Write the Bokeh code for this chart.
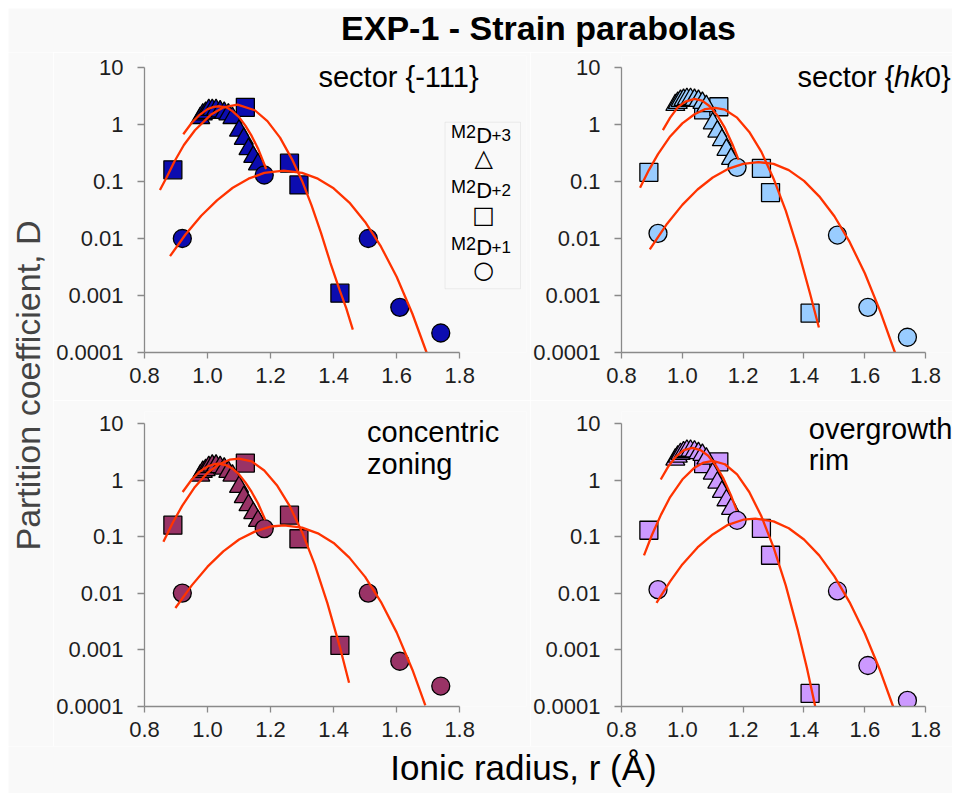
"""
EXP-1 - Strain parabolas: partition coefficients vs ionic radius, four zones
"""

import numpy as np

from bokeh.plotting import figure
from bokeh.layouts import column, row
from bokeh.models import (Range1d, FixedTicker, PrintfTickFormatter,
                          NumeralTickFormatter, Label, BoxAnnotation)
from bokeh.embed import file_html
from bokeh.resources import INLINE

# --------------------------------------------------------------
# DATA
# --------------------------------------------------------------

X_TICKS = [0.8, 1.0, 1.2, 1.4, 1.6, 1.8]
Y_TICKS = [0.0001, 0.001, 0.01, 0.1, 1, 10]

# M2D+3 (REE + Y), same radii in every panel
tri_r = [0.977, 0.985, 0.994, 1.004, 1.015, 1.027, 1.04, 1.053, 1.066, 1.079,
         1.10, 1.115, 1.13, 1.145, 1.16]
tri_d_111 = [1.3, 1.5, 1.6, 1.8, 1.8, 1.8, 1.7, 1.6, 1.5, 1.3, 0.78, 0.56, 0.37, 0.27, 0.2]
tri_d_hk0 = [2.2, 2.4, 2.6, 2.7, 2.8, 2.8, 2.7, 2.6, 2.4, 2.1, 1.05, 0.75, 0.53, 0.36, 0.25]
tri_d_conc = [1.2, 1.4, 1.5, 1.7, 1.8, 1.8, 1.7, 1.6, 1.4, 1.2, 0.76, 0.5, 0.36, 0.26, 0.19]
tri_d_rim = [2.3, 2.6, 2.9, 3.1, 3.3, 3.3, 3.2, 3.0, 2.8, 2.4, 1.3, 0.9, 0.62, 0.44, 0.31]

# M2D+2
sq_r_111 = [0.89, 1.12, 1.26, 1.29, 1.42]
sq_d_111 = [0.16, 2.0, 0.21, 0.087, 0.0011]
sq_r_hk0 = [0.89, 1.07, 1.12, 1.26, 1.29, 1.42]
sq_d_hk0 = [0.145, 1.8, 2.05, 0.17, 0.064, 0.00049]
sq_r_conc = [0.89, 1.12, 1.26, 1.29, 1.42]
sq_d_conc = [0.16, 2.0, 0.24, 0.092, 0.0012]
sq_r_rim = [0.89, 1.07, 1.12, 1.26, 1.29, 1.42]
sq_d_rim = [0.13, 1.95, 2.1, 0.14, 0.047, 0.00017]

# M2D+1
circ_r = [0.92, 1.18, 1.51, 1.61, 1.74]
circ_d_111 = [0.01, 0.13, 0.01, 0.00062, 0.00022]
circ_d_hk0 = [0.0123, 0.177, 0.0115, 0.00062, 0.000185]
circ_d_conc = [0.0101, 0.139, 0.0101, 0.00063, 0.00023]
circ_d_rim = [0.0116, 0.195, 0.011, 0.00053, 0.000128]

# fitted parabolas, points (r, log10 D)
fit3_r_111 = [0.923, 0.95, 0.975, 1.0, 1.02, 1.038, 1.06, 1.08, 1.10, 1.12, 1.14, 1.16, 1.186]
fit3_lg_111 = [-0.17, 0.03, 0.17, 0.27, 0.31, 0.32, 0.30, 0.23, 0.13, -0.02, -0.20, -0.42, -0.78]
fit2_r_111 = [0.849, 0.87, 0.895, 0.925, 0.96, 1.01, 1.05, 1.095, 1.15, 1.19, 1.23, 1.27,
              1.30, 1.33, 1.36, 1.39, 1.42, 1.44, 1.461]
fit2_lg_111 = [-1.15, -0.93, -0.65, -0.36, -0.10, 0.17, 0.30, 0.35, 0.25, 0.06, -0.23, -0.63,
               -0.99, -1.42, -1.90, -2.43, -2.92, -3.22, -3.60]
fit1_r_111 = [0.881, 0.93, 0.98, 1.03, 1.08, 1.13, 1.18, 1.242, 1.30, 1.35, 1.40, 1.45,
              1.50, 1.55, 1.60, 1.65, 1.695]
fit1_lg_111 = [-2.31, -1.93, -1.60, -1.33, -1.11, -0.95, -0.85, -0.81, -0.85, -0.95, -1.12, -1.37,
               -1.71, -2.14, -2.67, -3.32, -4.0]

fit3_r_hk0 = [0.936, 0.96, 0.985, 1.01, 1.04, 1.065, 1.09, 1.115, 1.14, 1.165, 1.185]
fit3_lg_hk0 = [-0.10, 0.12, 0.30, 0.40, 0.45, 0.42, 0.32, 0.16, -0.06, -0.35, -0.62]
fit2_r_hk0 = [0.861, 0.89, 0.92, 0.96, 1.0, 1.04, 1.075, 1.108, 1.14, 1.18, 1.22, 1.26,
              1.30, 1.34, 1.38, 1.42, 1.449]
fit2_lg_hk0 = [-1.11, -0.80, -0.52, -0.21, 0.02, 0.18, 0.27, 0.29, 0.26, 0.12, -0.13, -0.48,
               -0.95, -1.51, -2.19, -2.97, -3.56]
fit1_r_hk0 = [0.893, 0.95, 1.0, 1.05, 1.10, 1.15, 1.20, 1.25, 1.30, 1.35, 1.40, 1.45,
              1.50, 1.55, 1.60, 1.65, 1.699]
fit1_lg_hk0 = [-2.19, -1.74, -1.41, -1.14, -0.93, -0.78, -0.69, -0.66, -0.69, -0.80, -0.99, -1.26,
               -1.61, -2.06, -2.61, -3.27, -4.0]

fit3_r_conc = [0.921, 0.95, 0.975, 1.0, 1.02, 1.035, 1.06, 1.08, 1.10, 1.12, 1.14, 1.16, 1.183]
fit3_lg_conc = [-0.21, 0.01, 0.15, 0.24, 0.28, 0.29, 0.26, 0.20, 0.10, -0.04, -0.21, -0.41, -0.70]
fit2_r_conc = [0.86, 0.89, 0.92, 0.96, 1.0, 1.04, 1.07, 1.10, 1.14, 1.18, 1.22, 1.26,
               1.30, 1.34, 1.38, 1.42, 1.449]
fit2_lg_conc = [-1.09, -0.75, -0.45, -0.12, 0.13, 0.29, 0.36, 0.38, 0.33, 0.17, -0.09, -0.45,
                -0.92, -1.49, -2.17, -2.95, -3.58]
fit1_r_conc = [0.898, 0.95, 1.0, 1.05, 1.10, 1.15, 1.20, 1.243, 1.30, 1.35, 1.40, 1.45,
               1.50, 1.55, 1.60, 1.65, 1.691]
fit1_lg_conc = [-2.26, -1.86, -1.53, -1.26, -1.05, -0.91, -0.82, -0.80, -0.84, -0.94, -1.11, -1.37,
                -1.71, -2.15, -2.69, -3.35, -3.98]

fit3_r_rim = [0.929, 0.955, 0.98, 1.005, 1.033, 1.06, 1.085, 1.11, 1.135, 1.16, 1.179]
fit3_lg_rim = [0.01, 0.25, 0.42, 0.53, 0.57, 0.53, 0.43, 0.26, 0.03, -0.27, -0.54]
fit2_r_rim = [0.874, 0.90, 0.93, 0.96, 1.0, 1.04, 1.07, 1.10, 1.14, 1.18, 1.22, 1.26,
              1.30, 1.34, 1.38, 1.41, 1.437]
fit2_lg_rim = [-1.33, -0.97, -0.61, -0.30, 0.01, 0.22, 0.31, 0.34, 0.28, 0.10, -0.21, -0.64,
               -1.19, -1.86, -2.66, -3.33, -4.0]
fit1_r_rim = [0.915, 0.96, 1.0, 1.05, 1.10, 1.15, 1.20, 1.24, 1.30, 1.35, 1.40, 1.45,
              1.50, 1.55, 1.60, 1.65, 1.693]
fit1_lg_rim = [-2.17, -1.79, -1.49, -1.19, -0.96, -0.79, -0.70, -0.68, -0.73, -0.85, -1.05, -1.33,
               -1.70, -2.16, -2.71, -3.36, -4.0]

# --------------------------------------------------------------
# STYLE / GEOMETRY
# --------------------------------------------------------------

BG = "#f9f9f9"
FONT = "Liberation Sans"
FIT_COLOR = "#ff3300"
AXIS_COLOR = "#8a8a8a"

# (figure width, border left, border right, pixels per unit of r)
LEFT_COL = (477, 90, 4, 316)
RIGHT_COL = (422, 89, 0, 306)
# (figure height, border top, border bottom)
TOP_ROW = (348, 3, 48)
BOTTOM_ROW = (346, 11, 40)
HEADROOM = 12   # px of frame kept above D = 10 so the panel names are not clipped


def make_panel(col, rw, color, sq_r, sq_d, tri_d, circ_d, fits):
    width, left, right, px_per_r = col
    height, top, bottom = rw
    # frame runs on past r = 1.8 and above D = 10; the axes stop at the last tick
    x_end = 0.8 + (width - left - right) / px_per_r
    decade_px = (height - top - bottom - HEADROOM) / 5.0
    y_end = 10 ** (1 + HEADROOM / decade_px)
    p = figure(
        width=width, height=height,
        x_range=Range1d(0.8, x_end), y_range=Range1d(0.0001, y_end),
        y_axis_type="log",
        toolbar_location=None, output_backend="svg",
        min_border_left=left, min_border_right=right,
        min_border_top=top, min_border_bottom=bottom,
        background_fill_color=BG, border_fill_color=BG,
        outline_line_color=None,)
    p.grid.visible = False

    p.xaxis.bounds = (0.8, 1.8)
    p.yaxis.bounds = (0.0001, 10)
    p.xaxis.ticker = FixedTicker(ticks=X_TICKS)
    p.xaxis.formatter = NumeralTickFormatter(format="0.0")
    p.yaxis.ticker = FixedTicker(ticks=Y_TICKS)
    p.yaxis.formatter = PrintfTickFormatter(format="%g")
    p.axis.axis_line_color = AXIS_COLOR
    p.axis.axis_line_width = 1.3
    p.axis.major_tick_line_color = AXIS_COLOR
    p.axis.major_tick_line_width = 1.3
    p.axis.major_tick_in = 0
    p.axis.minor_tick_line_color = None
    p.axis.major_label_text_font = FONT
    p.axis.major_label_text_font_size = "22px"
    p.axis.major_label_text_color = "#1e1e1e"
    p.xaxis.major_tick_out = 6
    p.xaxis.major_label_standoff = 9
    p.yaxis.major_tick_out = 7
    p.yaxis.major_label_standoff = 14

    mk = dict(fill_color=color, line_color="black", line_width=1.3)
    p.scatter(sq_r, sq_d, marker="square", size=18, **mk)
    p.scatter(tri_r, tri_d, marker="triangle", size=19, **mk)
    p.scatter(circ_r, circ_d, marker="circle", size=18, **mk)

    for r, lg in fits:
        p.line(r, 10 ** np.array(lg), line_color=FIT_COLOR, line_width=2.3,
               line_join="round")
    return p


def add_text(p, x, y, text, size, align="left", style="normal", font=FONT,
             baseline="bottom"):
    p.add_layout(Label(x=x, y=y, text=text, text_align=align,
                       text_baseline=baseline, text_font=font,
                       text_font_size=size, text_font_style=style,
                       text_color="black"))


p1 = make_panel(LEFT_COL, TOP_ROW, "#0c0cb0", sq_r_111, sq_d_111, tri_d_111, circ_d_111,
                [(fit3_r_111, fit3_lg_111), (fit2_r_111, fit2_lg_111), (fit1_r_111, fit1_lg_111)])
p2 = make_panel(RIGHT_COL, TOP_ROW, "#99ccff", sq_r_hk0, sq_d_hk0, tri_d_hk0, circ_d_hk0,
                [(fit3_r_hk0, fit3_lg_hk0), (fit2_r_hk0, fit2_lg_hk0), (fit1_r_hk0, fit1_lg_hk0)])
p3 = make_panel(LEFT_COL, BOTTOM_ROW, "#993366", sq_r_conc, sq_d_conc, tri_d_conc, circ_d_conc,
                [(fit3_r_conc, fit3_lg_conc), (fit2_r_conc, fit2_lg_conc), (fit1_r_conc, fit1_lg_conc)])
p4 = make_panel(RIGHT_COL, BOTTOM_ROW, "#cc99ff", sq_r_rim, sq_d_rim, tri_d_rim, circ_d_rim,
                [(fit3_r_rim, fit3_lg_rim), (fit2_r_rim, fit2_lg_rim), (fit1_r_rim, fit1_lg_rim)])

# panel names
add_text(p1, 1.86, 3.52, "sector {-111}", "29px", align="right")
add_text(p2, 1.882, 3.52, "0}", "29px", align="right")
add_text(p2, 1.797, 3.52, "hk", "29px", align="right", style="italic")
add_text(p2, 1.697, 3.52, "sector {", "29px", align="right")
add_text(p3, 1.506, 3.64, "concentric", "29px")
add_text(p3, 1.506, 1.006, "zoning", "29px")
add_text(p4, 1.416, 4.23, "overgrowth", "29px")
add_text(p4, 1.416, 1.184, "rim", "29px")

# legend box (top-left panel, beside the axis end)
p1.add_layout(BoxAnnotation(left=1.7535, right=1.993, bottom=0.001312, top=1.096,
                            fill_color=None, fill_alpha=0,
                            line_color="#c8c8c8", line_width=1))
legend_rows = [("+3", "\u25b3", 0.4875, 0.3837, 0.5117, 0.2535),
               ("+2", "\u25a1", 0.0528, 0.04159, 0.05546, 0.02636),
               ("+1", "\u25cb", 0.005284, 0.004159, 0.005546, 0.002748)]
for sup, mark, y_m2, y_d, y_sup, y_mark in legend_rows:
    add_text(p1, 1.8522, y_m2, "M2", "18px", align="right")
    add_text(p1, 1.8522, y_d, "D", "22px")
    add_text(p1, 1.901, y_sup, sup, "17px")
    add_text(p1, 1.876, y_mark, mark, "24px", align="center", font="DejaVu Sans",
             baseline="middle")

# --------------------------------------------------------------
# TITLE AND AXIS NAMES
# --------------------------------------------------------------


def text_strip(width, height):
    s = figure(width=width, height=height, x_range=Range1d(0, width), y_range=Range1d(0, height),
               x_axis_type=None, y_axis_type=None, toolbar_location=None,
               output_backend="svg", min_border=0,
               background_fill_color=BG, border_fill_color=BG, outline_line_color=None)
    s.grid.visible = False
    return s


head = text_strip(944, 44)
add_text(head, 530, 6, "EXP-1 - Strain parabolas", "34px", align="center", style="bold")

ylab = text_strip(45, TOP_ROW[0] + BOTTOM_ROW[0])
ylab.add_layout(Label(x=19, y=361, text="Partition coefficient, D", angle=np.pi / 2,
                      text_align="center", text_baseline="middle",
                      text_font=FONT, text_font_size="34px"))

xlab = text_strip(944, 47)
add_text(xlab, 515, 7, "Ionic radius, r (\u00c5)", "35px", align="center")

layout = column(head, row(ylab, column(row(p1, p2), row(p3, p4))), xlab,
                margin=(8, 0, 0, 8))

open("out.html", "w").write(file_html(layout, INLINE))
